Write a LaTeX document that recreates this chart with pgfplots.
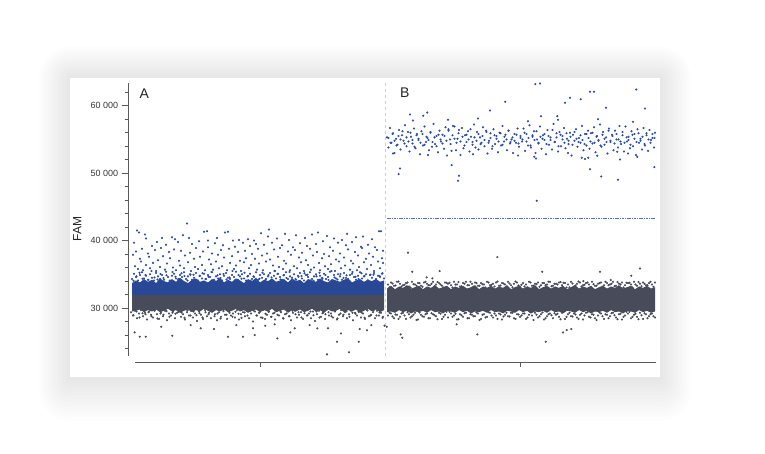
\documentclass[border=0pt]{standalone}
\usepackage{fontspec}
\setmainfont{Liberation Sans}
\usepackage{pgfplots}
\pgfplotsset{compat=1.18}
\definecolor{bandblue}{RGB}{40,72,150}
\definecolor{dotblue}{RGB}{44,76,165}
\definecolor{bandgray}{RGB}{72,75,90}
\definecolor{thrblue}{RGB}{80,110,200}
\definecolor{divgray}{RGB}{205,205,212}
\definecolor{axisgray}{RGB}{90,90,90}
\definecolor{labelgray}{RGB}{55,55,55}
\begin{document}
\begin{tikzpicture}[x=1pt,y=1pt]
\useasboundingbox (0,0) rectangle (765,454);
\fill[white] (0,0) rectangle (765,454);
\foreach \i in {1,...,12}{
  \pgfmathsetmacro\d{2.6*\i}
  \fill[black,opacity=0.006,rounded corners=\d pt] ({70-\d},{77-\d-0.4*\d}) rectangle ({660+\d},{376+\d});
}
\fill[white] (70,77) rectangle (660,376);
\begin{axis}[
  at={(128pt,98pt)}, anchor=south west,
  scale only axis, width=529pt, height=273pt,
  xmin=0, xmax=529, ymin=22900, ymax=63360,
  axis x line=none, axis y line=left,
  axis line style={-, draw=axisgray, line width=0.6pt},
  scaled y ticks=false,
  ytick={30000,40000,50000,60000},
  yticklabels={{30\ 000},{40\ 000},{50\ 000},{60\ 000}},
  minor ytick={24000,26000,28000,32000,34000,36000,38000,42000,44000,46000,48000,52000,54000,56000,58000,62000},
  tick align=outside, major tick length=6.3pt, minor tick length=3.3pt,
  tick style={axisgray, line width=0.6pt},
  yticklabel style={font=\fontsize{9}{10}\selectfont, text=labelgray},
  /pgf/number format/assume math mode=true,
]
% divider
\addplot[divgray, dashed, line width=0.6pt] coordinates {(257,22900) (257,63360)};
% A blue dense band
\addplot[fill=bandblue, draw=none] coordinates {
(4,33700) (8,34100) (12,33800) (16,34300) (20,33900) (24,34200) (28,33700) (32,34400) (36,34000) (40,33800) (44,34300) (48,33900) (52,34500) (56,34000) (60,33700) (64,34200) (68,34400) (72,33900) (76,34100) (80,33800) (84,34300) (88,34000) (92,34500) (96,33800) (100,34200) (104,33900) (108,34400) (112,34100) (116,33700) (120,34300) (124,34000) (128,34500) (132,33800) (136,34200) (140,34000) (144,34400) (148,33900) (152,34100) (156,34300) (160,33800) (164,34400) (168,34000) (172,34200) (176,33700) (180,34300) (184,34100) (188,33900) (192,34400) (196,34000) (200,33800) (204,34300) (208,34100) (212,33900) (216,34200) (220,34400) (224,33800) (228,34100) (232,34300) (236,33900) (240,34200) (244,34000) (248,34300) (252,33900) (256,34100) (256,31950) (4,31950)};
% A gray dense band
\addplot[fill=bandgray, draw=none] coordinates {
(4,31950) (256,31950) (256,29700) (252,29400) (248,29800) (244,29500) (240,29900) (236,29600) (232,29300) (228,29800) (224,29500) (220,29700) (216,29400) (212,29900) (208,29600) (204,29500) (200,29800) (196,29300) (192,29700) (188,29500) (184,29900) (180,29600) (176,29400) (172,29800) (168,29500) (164,29700) (160,29300) (156,29800) (152,29600) (148,29400) (144,29900) (140,29500) (136,29700) (132,29400) (128,29800) (124,29600) (120,29300) (116,29700) (112,29500) (108,29900) (104,29600) (100,29400) (96,29800) (92,29500) (88,29700) (84,29300) (80,29600) (76,29900) (72,29500) (68,29700) (64,29400) (60,29800) (56,29600) (52,29300) (48,29700) (44,29500) (40,29900) (36,29600) (32,29400) (28,29800) (24,29500) (20,29700) (16,29400) (12,29800) (8,29600) (4,29500)};
% B gray dense band
\addplot[fill=bandgray, draw=none] coordinates {
(259,32900) (263,33300) (267,32800) (271,33200) (275,33000) (279,33400) (283,32900) (287,33100) (291,33300) (295,32800) (299,33200) (303,33000) (307,33400) (311,32900) (315,33100) (319,33300) (323,32800) (327,33200) (331,33000) (335,33300) (339,32900) (343,33100) (347,33400) (351,32800) (355,33200) (359,33000) (363,33300) (367,32900) (371,33200) (375,33000) (379,33400) (383,32800) (387,33100) (391,33300) (395,32900) (399,33200) (403,33000) (407,33400) (411,32800) (415,33100) (419,33300) (423,32900) (427,33200) (431,33000) (435,33300) (439,32800) (443,33100) (447,33400) (451,32900) (455,33200) (459,33000) (463,33300) (467,32800) (471,33100) (475,33300) (479,32900) (483,33200) (487,33000) (491,33400) (495,32900) (499,33100) (503,33300) (507,32800) (511,33200) (515,33000) (519,33300) (523,32900) (527,33100)
(527,29500) (523,29300) (519,29600) (515,29400) (511,29700) (507,29300) (503,29500) (499,29600) (495,29200) (491,29500) (487,29400) (483,29700) (479,29300) (475,29600) (471,29400) (467,29500) (463,29200) (459,29600) (455,29400) (451,29700) (447,29300) (443,29500) (439,29600) (435,29200) (431,29500) (427,29400) (423,29700) (419,29300) (415,29600) (411,29400) (407,29500) (403,29200) (399,29600) (395,29400) (391,29700) (387,29300) (383,29500) (379,29600) (375,29200) (371,29500) (367,29400) (363,29700) (359,29300) (355,29600) (351,29400) (347,29500) (343,29200) (339,29600) (335,29400) (331,29700) (327,29300) (323,29500) (319,29600) (315,29200) (311,29500) (307,29400) (303,29700) (299,29300) (295,29600) (291,29400) (287,29500) (283,29200) (279,29600) (275,29400) (271,29700) (267,29300) (263,29500) (259,29400)};
% A gray fuzz and outliers
\addplot[only marks, mark=*, mark size=0.85pt, color=bandgray] coordinates {
(3,29400) (5,28900) (7,29600) (9,28500) (11,29200) (13,29700) (15,28800) (17,29300) (19,28300) (21,29500) (23,29000) (25,28600) (27,29700) (29,29100) (31,28400) (33,29400) (35,28800) (37,29600) (39,28200) (41,29200) (43,28900) (45,29500) (47,28500) (49,29300) (51,29700) (53,28700) (55,29100) (57,28300) (59,29400) (61,28900) (63,29600) (65,28600) (67,29200) (69,28100) (71,29500) (73,29000) (75,28400) (77,29700) (79,28800) (81,29300) (83,28500) (85,29600) (87,29100) (89,28200) (91,29400) (93,28700) (95,29800) (97,29000) (99,28400) (101,29500) (103,28900) (105,29200) (107,28600) (109,29700) (111,28300) (113,29100) (115,29400) (117,28800) (119,29600) (121,28500) (123,29200) (125,28000) (127,29500) (129,28900) (131,29300) (133,28600) (135,29700) (137,28400) (139,29000) (141,29500) (143,28700) (145,29200) (147,28300) (149,29600) (151,28900) (153,29400) (155,28500) (157,29100) (159,29700) (161,28800) (163,28200) (165,29300) (167,29600) (169,28600) (171,29000) (173,29400) (175,28400) (177,29700) (179,28900) (181,29200) (183,28500) (185,29500) (187,28100) (189,29100) (191,29600) (193,28700) (195,29300) (197,28400) (199,29800) (201,28900) (203,29200) (205,28600) (207,29500) (209,28300) (211,29000) (213,29700) (215,28800) (217,29400) (219,28500) (221,29100) (223,29600) (225,28200) (227,29300) (229,28900) (231,29500) (233,28600) (235,29200) (237,28400) (239,29700) (241,28800) (243,29000) (245,29400) (247,28500) (249,29600) (251,28900) (253,29300) (255,28700)
(5.5,28950) (8.5,29500) (11.5,28600) (14.5,29250) (17.5,29100) (20.5,29400) (23.5,28800) (26.5,29600) (29.5,28450) (32.5,29200) (35.5,29000) (38.5,29550) (41.5,28700) (44.5,29300) (47.5,29150) (50.5,29450) (53.5,29350) (56.5,28550) (59.5,29650) (62.5,28900)
(65.5,29500) (68.5,28950) (71.5,29250) (74.5,28600) (77.5,29400) (80.5,29100) (83.5,29600) (86.5,28800) (89.5,29200) (92.5,28450) (95.5,29550) (98.5,29000) (101.5,29300) (104.5,28700) (107.5,29450) (110.5,29150) (113.5,28550) (116.5,29350) (119.5,28900) (122.5,29650)
(125.5,29650) (128.5,28900) (131.5,29350) (134.5,28550) (137.5,29150) (140.5,29450) (143.5,28700) (146.5,29300) (149.5,29000) (152.5,29550) (155.5,28450) (158.5,29200) (161.5,28800) (164.5,29600) (167.5,29100) (170.5,29400) (173.5,28600) (176.5,29250) (179.5,28950) (182.5,29500)
(185.5,28950) (188.5,29500) (191.5,28600) (194.5,29250) (197.5,29100) (200.5,29400) (203.5,28800) (206.5,29600) (209.5,28450) (212.5,29200) (215.5,29000) (218.5,29550) (221.5,28700) (224.5,29300) (227.5,29150) (230.5,29450) (233.5,29350) (236.5,28550) (239.5,29650) (242.5,28900)
(245.5,29650) (248.5,28900) (251.5,29350) (254.5,28550)
(6.7,26400) (11.7,25760) (17.7,25760) (44.3,25910) (100,25760) (115,25760) (126.7,26000) (149.3,25510) (162.3,26400) (189.3,26990) (199,23140) (209,25020) (221,23440) (230.7,25020) (213,26250) (239,26700) (256.5,27400)
(33.3,27240) (62.7,27480) (72.7,27000) (86,26890) (108.3,27480) (125,27000) (137.3,27390) (146.7,27590) (166.7,27000) (181.7,27480) (200,27000) (231.7,26890) (243.3,27480)};
% B gray fuzz and outliers
\addplot[only marks, mark=*, mark size=0.85pt, color=bandgray] coordinates {
(260,33500) (263,33800) (266,33300) (269,33900) (272,33600) (275,33400) (278,33700) (281,33200) (284,33900) (287,33500) (290,33700) (293,33300) (296,33800) (299,33600) (302,33400) (305,33900) (308,33500) (311,33700) (314,33300) (317,33800) (320,33600) (323,33400) (326,33900) (329,33500) (332,33200) (335,33700) (338,33900) (341,33400) (344,33600) (347,33800) (350,33300) (353,33700) (356,33500) (359,33900) (362,33400) (365,33600) (368,33800) (371,33300) (374,33700) (377,33500) (380,33900) (383,33400) (386,33600) (389,33800) (392,33200) (395,33700) (398,33500) (401,33900) (404,33300) (407,33600) (410,33800) (413,33400) (416,33700) (419,33500) (422,33900) (425,33300) (428,33600) (431,33800) (434,33400) (437,33700) (440,33500) (443,33900) (446,33200) (449,33600) (452,33800) (455,33400) (458,33700) (461,33500) (464,33900) (467,33300) (470,33600) (473,33800) (476,33400) (479,33700) (482,33500) (485,33900) (488,33300) (491,33600) (494,33800) (497,33400) (500,33700) (503,33500) (506,33900) (509,33300) (512,33600) (515,33800) (518,33400) (521,33700) (524,33500) (527,33800)
(261.5,33100) (264.5,33650) (267.5,33350) (270.5,33950) (273.5,33200) (276.5,33450) (279.5,33800) (282.5,33050) (285.5,33550) (288.5,33300) (291.5,33700) (294.5,33150) (297.5,33900) (300.5,33400) (303.5,33600) (306.5,33250) (309.5,33850) (312.5,33500) (315.5,33050) (318.5,33750)
(321.5,33750) (324.5,33050) (327.5,33500) (330.5,33850) (333.5,33250) (336.5,33600) (339.5,33400) (342.5,33900) (345.5,33150) (348.5,33700) (351.5,33300) (354.5,33550) (357.5,33050) (360.5,33800) (363.5,33450) (366.5,33200) (369.5,33950) (372.5,33350) (375.5,33650) (378.5,33100)
(381.5,33650) (384.5,33100) (387.5,33950) (390.5,33350) (393.5,33450) (396.5,33200) (399.5,33050) (402.5,33800) (405.5,33300) (408.5,33550) (411.5,33150) (414.5,33700) (417.5,33400) (420.5,33900) (423.5,33250) (426.5,33600) (429.5,33500) (432.5,33850) (435.5,33750) (438.5,33050)
(441.5,33100) (444.5,33650) (447.5,33350) (450.5,33950) (453.5,33200) (456.5,33450) (459.5,33800) (462.5,33050) (465.5,33550) (468.5,33300) (471.5,33700) (474.5,33150) (477.5,33900) (480.5,33400) (483.5,33600) (486.5,33250) (489.5,33850) (492.5,33500) (495.5,33050) (498.5,33750)
(501.5,33750) (504.5,33050) (507.5,33500) (510.5,33850) (513.5,33250) (516.5,33600) (519.5,33400) (522.5,33900) (525.5,33150)
(260,28900) (263,29200) (266,28500) (269,29000) (272,28700) (275,29300) (278,28400) (281,29100) (284,28800) (287,29300) (290,28300) (293,29000) (296,28700) (299,29200) (302,28500) (305,29100) (308,28800) (311,29300) (314,28400) (317,29000) (320,28600) (323,29200) (326,28900) (329,28300) (332,29100) (335,28700) (338,29300) (341,28500) (344,29000) (347,28800) (350,29200) (353,28400) (356,29100) (359,28700) (362,29300) (365,28600) (368,28900) (371,29200) (374,28300) (377,29000) (380,28800) (383,29300) (386,28500) (389,29100) (392,28700) (395,29200) (398,28400) (401,29000) (404,28900) (407,29300) (410,28600) (413,29100) (416,28300) (419,28800) (422,29200) (425,28500) (428,29000) (431,28700) (434,29300) (437,28400) (440,29100) (443,28800) (446,29200) (449,28600) (452,29000) (455,28300) (458,29300) (461,28700) (464,29100) (467,28500) (470,28900) (473,29200) (476,28400) (479,29000) (482,28800) (485,29300) (488,28600) (491,29100) (494,28300) (497,28900) (500,29200) (503,28500) (506,29000) (509,28700) (512,29300) (515,28400) (518,29100) (521,28800) (524,29200) (527,28600)
(261.5,29300) (264.5,28750) (267.5,29050) (270.5,28400) (273.5,29200) (276.5,28900) (279.5,29400) (282.5,28600) (285.5,29000) (288.5,28250) (291.5,29350) (294.5,28800) (297.5,29100) (300.5,28500) (303.5,29250) (306.5,28950) (309.5,28350) (312.5,29150) (315.5,28700) (318.5,29450)
(321.5,29450) (324.5,28700) (327.5,29150) (330.5,28350) (333.5,28950) (336.5,29250) (339.5,28500) (342.5,29100) (345.5,28800) (348.5,29350) (351.5,28250) (354.5,29000) (357.5,28600) (360.5,29400) (363.5,28900) (366.5,29200) (369.5,28400) (372.5,29050) (375.5,28750) (378.5,29300)
(381.5,28750) (384.5,29300) (387.5,28400) (390.5,29050) (393.5,28900) (396.5,29200) (399.5,28600) (402.5,29400) (405.5,28250) (408.5,29000) (411.5,28800) (414.5,29350) (417.5,28500) (420.5,29100) (423.5,28950) (426.5,29250) (429.5,29150) (432.5,28350) (435.5,29450) (438.5,28700)
(441.5,29300) (444.5,28750) (447.5,29050) (450.5,28400) (453.5,29200) (456.5,28900) (459.5,29400) (462.5,28600) (465.5,29000) (468.5,28250) (471.5,29350) (474.5,28800) (477.5,29100) (480.5,28500) (483.5,29250) (486.5,28950) (489.5,28350) (492.5,29150) (495.5,28700) (498.5,29450)
(501.5,29450) (504.5,28700) (507.5,29150) (510.5,28350) (513.5,28950) (516.5,29250) (519.5,28500) (522.5,29100) (525.5,28800)
(284.3,35390) (298.7,34550) (304.3,34400) (311.7,35480) (414.3,35390) (472,35390) (503.3,34800) (512,35880) (482.7,34150) (455.3,34000) (280,38210) (369.3,37560)
(272.7,26100) (274.3,25610) (349.3,26100) (417.7,25020) (435,26400) (438.7,26740) (443.3,26890) (328.7,27590) (258.7,27240)};
% A blue fuzz above band
\addplot[only marks, mark=*, mark size=0.85pt, color=dotblue] coordinates {
(4,34300) (6,35100) (8,34600) (10,34100) (12,34900) (14,35300) (16,34400) (18,34800) (20,34200) (22,35000) (24,34500) (26,34100) (28,35200) (30,34700) (32,34300) (34,34900) (36,34200) (38,35400) (40,34600) (42,34100) (44,34800) (46,35100) (48,34400) (50,34200) (52,34900) (54,34600) (56,35300) (58,34300) (60,34700) (62,35000) (64,34200) (66,34500) (68,35200) (70,34100) (72,34800) (74,34400) (76,35100) (78,34300) (80,34900) (82,34600) (84,35300) (86,34200) (88,34700) (90,34400) (92,35000) (94,34100) (96,34800) (98,35200) (100,34500) (102,34300) (104,34900) (106,34600) (108,35400) (110,34200) (112,34700) (114,35000) (116,34400) (118,34100) (120,34800) (122,35100) (124,34300) (126,34600) (128,35300) (130,34200) (132,34900) (134,34500) (136,35000) (138,34300) (140,34700) (142,35200) (144,34100) (146,34800) (148,34400) (150,35100) (152,34600) (154,34200) (156,34900) (158,35300) (160,34300) (162,34700) (164,34500) (166,35000) (168,34200) (170,34800) (172,35200) (174,34400) (176,34100) (178,34900) (180,34600) (182,35300) (184,34300) (186,34700) (188,35000) (190,34200) (192,34800) (194,34500) (196,35100) (198,34300) (200,34600) (202,35400) (204,34100) (206,34900) (208,34400) (210,35000) (212,34700) (214,34200) (216,35200) (218,34500) (220,34300) (222,34900) (224,35100) (226,34600) (228,34200) (230,34800) (232,35300) (234,34400) (236,34700) (238,35000) (240,34100) (242,34900) (244,34500) (246,35200) (248,34300) (250,34800) (252,34600) (254,35100) (256,34400)
(5.5,34050) (8.5,34700) (11.5,35250) (14.5,34350) (17.5,34900) (20.5,34150) (23.5,35500) (26.5,34550) (29.5,34250) (32.5,35050) (35.5,34450) (38.5,34850) (41.5,34000) (44.5,35350) (47.5,34650) (50.5,34300) (53.5,35150) (56.5,34750) (59.5,34100) (62.5,34950)
(65.5,34950) (68.5,34100) (71.5,34750) (74.5,35150) (77.5,34300) (80.5,34650) (83.5,35350) (86.5,34000) (89.5,34850) (92.5,34450) (95.5,35050) (98.5,34250) (101.5,34550) (104.5,35500) (107.5,34150) (110.5,34900) (113.5,34350) (116.5,35250) (119.5,34700) (122.5,34050)
(125.5,34700) (128.5,34050) (131.5,34350) (134.5,35250) (137.5,34150) (140.5,34900) (143.5,34550) (146.5,35500) (149.5,35050) (152.5,34250) (155.5,34850) (158.5,34450) (161.5,35350) (164.5,34000) (167.5,34300) (170.5,34650) (173.5,34750) (176.5,35150) (179.5,34950) (182.5,34100)
(185.5,34050) (188.5,34700) (191.5,35250) (194.5,34350) (197.5,34900) (200.5,34150) (203.5,35500) (206.5,34550) (209.5,34250) (212.5,35050) (215.5,34450) (218.5,34850) (221.5,34000) (224.5,35350) (227.5,34650) (230.5,34300) (233.5,35150) (236.5,34750) (239.5,34100) (242.5,34950)
(245.5,34950) (248.5,34100) (251.5,34750) (254.5,35150)};
% A blue sparse
\addplot[only marks, mark=*, mark size=0.85pt, color=dotblue] coordinates {
(5,37900) (6,39700) (7,36200) (8,38400) (9,41500) (10,35800) (11,41200) (12,37300) (13,36900) (14,38800) (15,35600) (17,40900) (18,40300) (18,36400) (20,38100) (21,37600) (22,35900) (24,39200) (25,36700) (27,38600) (28,35500) (29,39800) (30,37100) (32,36100) (33,38900) (34,40400) (35,37700) (37,35700) (38,39400) (39,36600) (41,38300) (42,37400) (44,40500) (45,36000) (46,38700) (47,40200) (48,35600) (50,39800) (51,37000) (52,36300) (53,38500) (55,40800) (56,35900) (57,37800) (59,42550) (60,36800) (61,40400) (62,38200) (63,35500) (64,39500) (66,37300) (67,36100) (68,38900) (70,35800) (71,39900) (72,37600) (74,36400) (75,38400) (76,41300) (77,35600) (79,41400) (80,40000) (80,39000) (81,37200) (83,36500) (84,38100) (85,35700) (87,39600) (88,36900) (89,40400) (90,37900) (91,35900) (93,38600) (94,36200) (95,39300) (96,37500) (97,41200) (99,35600) (100,41300) (101,38800) (102,36700) (104,37700) (105,40000) (106,35800) (107,39100) (108,36300) (110,38300) (111,40100) (112,37000) (113,35500) (115,39700) (116,36800) (117,38500) (118,37400) (120,40200) (121,35900) (122,39200) (123,36400) (124,38000) (126,40000) (127,37300) (128,39500) (129,35700) (130,38800) (131,36600) (133,41100) (134,37800) (135,35600) (136,39400) (138,36900) (139,38100) (140,40600) (141,41650) (142,37200) (144,39700) (145,36300) (146,38700) (147,35500) (149,40300) (150,37600) (151,36100) (152,38900) (154,39300) (155,35800) (156,37000) (157,41000) (158,36600) (160,38400) (161,40100) (162,35600) (163,37900) (165,39000) (166,36200) (167,38600) (168,40800) (169,35900) (171,37500) (172,39600) (173,36800) (174,38200) (176,35500) (177,40400) (178,37100) (179,39200) (180,36400) (182,38800) (183,35700) (184,40900) (185,37800) (186,36000) (188,39500) (189,38300) (190,41200) (191,36700) (192,35600) (194,37400) (195,39900) (196,38000) (197,36200) (199,40700) (200,35800) (201,37700) (202,39000) (203,36500) (205,38500) (206,40300) (207,35500) (208,37200) (210,39700) (211,36900) (212,38100) (213,35900) (214,40100) (216,37500) (217,36300) (218,39300) (219,41000) (220,38700) (222,35700) (223,37000) (224,39800) (225,36600) (227,38300) (228,40500) (229,35600) (230,37800) (231,36100) (233,39100) (234,38900) (235,40600) (236,36800) (238,37300) (239,35800) (240,39400) (241,38100) (243,36400) (244,40200) (245,37600) (246,35500) (247,39000) (249,38600) (250,36900) (251,41400) (252,35900) (253,41400) (254,37400) (255,36700) (255,38500)};
% B blue cluster
\addplot[only marks, mark=*, mark size=0.85pt, color=dotblue] coordinates {
(259,55300) (260.5,53800) (262,56700) (263.5,54500) (265,55900) (266.5,53000) (268,55100) (269.5,54200) (271,56400) (272.5,53500) (274,55600) (275.5,54800) (277,57100) (278.5,54000) (280,56100) (281.5,53200) (283,55400) (284.5,54400) (286,56600) (287.5,53700) (289,55800) (290.5,54900) (292,52800) (293.5,56200) (295,54100) (296.5,56900) (298,54600) (299.5,55200) (301,53400) (302.5,56000) (304,53900) (305.5,57300) (307,54300) (308.5,55500) (310,53100) (311.5,56300) (313,54700) (314.5,55700) (316,53600) (317.5,56800) (319,52600) (320.5,56500) (322,55000) (323.5,53300) (325,57000)
(326.5,56900) (328,53400) (329.5,55100) (331,56400) (332.5,52700) (334,56700) (335.5,53700) (337,55600) (338.5,54600) (340,56200) (341.5,53200) (343,55400) (344.5,54200) (346,57200) (347.5,53800) (349,56100) (350.5,53500) (352,55300) (353.5,54500) (355,56800) (356.5,54000) (358,56300) (359.5,52900) (361,54800) (362.5,55900) (364,53600) (365.5,56500) (367,54300) (368.5,55500) (370,53100) (371.5,56000) (373,54100) (374.5,57000) (376,54700) (377.5,55700) (379,53400) (380.5,56300) (382,54400) (383.5,55000) (385,53000) (386.5,55800) (388,54500) (389.5,56600) (391,53900) (392.5,55200)
(394,54700) (395.5,56600) (397,53300) (398.5,55800) (400,54100) (401.5,57100) (403,53800) (404.5,55400) (406,56200) (407.5,53000) (409,55000) (410.5,54400) (412,56900) (413.5,53600) (415,55600) (416.5,54900) (418,52800) (419.5,56400) (421,54200) (422.5,55300) (424,53500) (425.5,57300) (427,54600) (428.5,55900) (430,53200) (431.5,56100) (433,54000) (434.5,55500) (436,56700) (437.5,53700) (439,55100) (440.5,54300) (442,56000) (443.5,52600) (445,55700) (446.5,54800) (448,56500) (449.5,53900) (451,55200) (452.5,54500) (454,57000) (455.5,53400) (457,55800) (458.5,54100) (460,56300)
(461.5,53600) (463,55900) (464.5,54400) (466,56800) (467.5,53100) (469,55500) (470.5,54800) (472,57200) (473.5,53900) (475,56100) (476.5,54200) (478,55300) (479.5,52900) (481,56600) (482.5,54600) (484,55700) (485.5,53400) (487,56300) (488.5,55000) (490,53800) (491.5,57000) (493,54300) (494.5,55600) (496,53200) (497.5,56900) (499,54700) (500.5,55400) (502,53700) (503.5,56200) (505,54000) (506.5,55800) (508,52700) (509.5,56500) (511,54500) (512.5,55100) (514,53500) (515.5,56700) (517,54100) (518.5,55900) (520,53300) (521.5,56400) (523,54900) (524.5,55200) (526,53800) (527,56000)
(260.5,55200) (262.5,54500) (264.5,55800) (266.5,54800) (268.5,54100) (270.5,55500) (272.5,55000) (274.5,56200) (276.5,54400) (278.5,55300) (280.5,54700) (282.5,56000) (284.5,54900) (286.5,53900) (288.5,55600) (290.5,55100) (292.5,54500) (294.5,55800) (296.5,54200) (298.5,55400) (300.5,54900) (302.5,56100) (304.5,54600) (306.5,55300) (308.5,54000) (310.5,55700) (312.5,55000) (314.5,54400) (316.5,55500) (318.5,54800) (320.5,56300) (322.5,54300) (324.5,55600) (326.5,55100) (328.5,54500) (330.5,55900) (332.5,54700) (334.5,55400) (336.5,54100) (338.5,55700) (340.5,55000) (342.5,56500) (344.5,54600) (346.5,55300) (348.5,54800) (350.5,55800) (352.5,54300) (354.5,55500) (356.5,54900) (358.5,56100) (360.5,54500) (362.5,55200) (364.5,54000) (366.5,55600) (368.5,55100) (370.5,54700) (372.5,55900) (374.5,54200) (376.5,55400) (378.5,55000) (380.5,56300) (382.5,54600) (384.5,55300) (386.5,54800) (388.5,55700) (390.5,54400) (392.5,55500) (394.5,55000) (396.5,56000) (398.5,54700) (400.5,55200) (402.5,54100) (404.5,55600) (406.5,54900) (408.5,56200) (410.5,54500) (412.5,55400) (414.5,55100) (416.5,55800) (418.5,54300) (420.5,55500) (422.5,54900) (424.5,56400) (426.5,54600) (428.5,55300) (430.5,54000) (432.5,55700) (434.5,55000) (436.5,54500) (438.5,55900) (440.5,54800) (442.5,55400) (444.5,54200) (446.5,56100) (448.5,55100) (450.5,54600) (452.5,55600) (454.5,54900) (456.5,54300) (458.5,55800) (460.5,55200) (462.5,54700) (464.5,56000) (466.5,54500) (468.5,55400) (470.5,54900) (472.5,54100) (474.5,55700) (476.5,55100) (478.5,54600) (480.5,56300) (482.5,54800) (484.5,55500) (486.5,54400) (488.5,55800) (490.5,55000) (492.5,54700) (494.5,56100) (496.5,54500) (498.5,55300) (500.5,54900) (502.5,54200) (504.5,55700) (506.5,55100) (508.5,54600) (510.5,55900) (512.5,54800) (514.5,55400) (516.5,54300) (518.5,55600) (520.5,55000) (522.5,54500) (524.5,55800) (526.5,55200)
(272,50700) (270.7,49850) (323.7,51190) (331,49610) (330,48870) (377.3,60580) (362,59290) (299.3,58990) (295.3,58500) (282,58700) (407.3,63190) (412,63290) (462,62060) (466,62060) (508.3,62400) (437,60430) (442,61170) (452.7,60960) (478,59690) (517,59590) (413,58440) (429.3,58440) (462,50590) (473.3,49510) (490,49020) (526.3,50890) (408.7,45910) (406.3,52420) (408,52180) (453.7,52280) (457,52080) (460.3,52280) (469.3,52580) (492,52030) (509.3,52420) (489.3,53170) (265,52900) (300,52700) (345,52800) (390,52600) (440,53000) (500,52900) (285,57800) (320,57900) (350,58100) (400,57700) (430,57900) (470,58000) (505,57600)};
% threshold
\addplot[thrblue, line width=0.8pt, dash pattern=on 1.6pt off 0.8pt] coordinates {(259,43330) (527,43330)};
\node[font=\fontsize{14}{14}\selectfont, text=black!85] at (axis cs:16.3,61760) {A};
\node[font=\fontsize{14}{14}\selectfont, text=black!85] at (axis cs:276.7,61960) {B};
\end{axis}
% x axis line (offset below plot)
\draw[axisgray, line width=0.6pt] (135,92) -- (656,92);
\draw[axisgray, line width=0.6pt] (260,92) -- (260,86.5);
\draw[axisgray, line width=0.6pt] (520,92) -- (520,86.5);
\node[rotate=90, font=\fontsize{12}{12}\selectfont, text=black!85] at (77.3,225) {FAM};
\end{tikzpicture}
\end{document}
